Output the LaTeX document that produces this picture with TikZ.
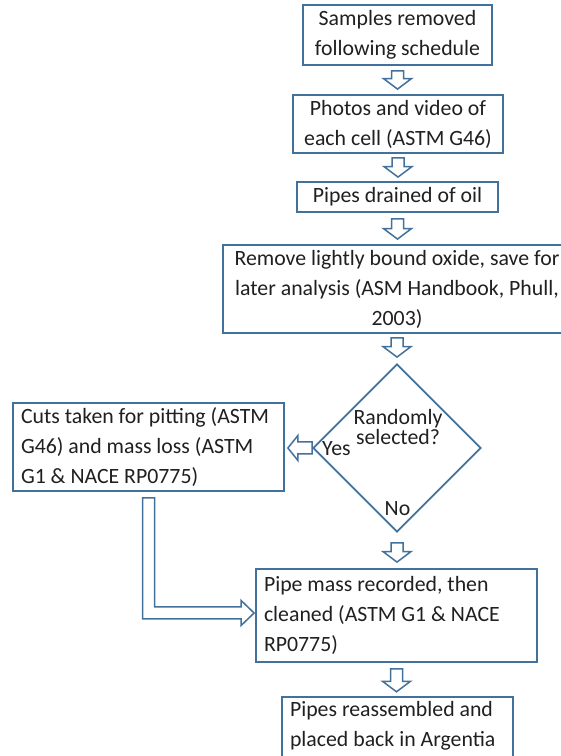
\documentclass[tikz,border=0pt]{standalone}
\usepackage{fontspec}
\setmainfont{Carlito}
\usetikzlibrary{shapes.geometric,calc}
\definecolor{edge}{HTML}{41719C}
\definecolor{ink}{HTML}{202020}

\tikzset{
  x=1pt, y=1pt,
  txt/.style={text=ink, inner sep=0pt, font=\fontsize{21.8}{30}\selectfont},
  box/.style={txt, draw=edge, line width=1.8pt, fill=white},
  cbox/.style={box, align=flush center},
  lbox/.style={box, align=flush left, inner xsep=8pt, text width=#1},
  blk/.style={draw=edge, line width=1.5pt, fill=white, line join=miter},
  decision/.style={diamond, aspect=1, draw=edge, line width=1.8pt, inner sep=0pt,
    minimum width=168pt, minimum height=168pt},
}

% hollow block arrow pointing down, from start point #1 to tip #2
\newcommand\downblk[2]{%
  \draw[blk] let \p1=(#1), \p2=(#2) in
    (\x1-6pt,\y1) -- (\x1+6pt,\y1) -- (\x1+6pt,\y2+10.5pt) -- (\x1+14pt,\y2+10.5pt)
    -- (\x1,\y2) -- (\x1-14pt,\y2+10.5pt) -- (\x1-6pt,\y2+10.5pt) -- cycle;}

\begin{document}
\begin{tikzpicture}
\useasboundingbox (0,0) rectangle (561,756);

% process boxes
\node[cbox, minimum width=189pt, minimum height=60pt] (b1) at (397.5,721)
  {Samples removed\\following schedule};
\node[cbox, minimum width=210pt, minimum height=58pt] (b2) at (398,632)
  {Photos and video of\\each cell (ASTM G46)};
\node[cbox, minimum width=201pt, minimum height=30pt] (b3) at (397.5,559)
  {Pipes drained of oil};
\node[cbox, minimum width=348pt, minimum height=88pt] (b4) at (397,467)
  {Remove lightly bound oxide, save for\\later analysis (ASM Handbook, Phull,\\2003)};

% decision
\node[decision] (dia) at (397,308) {};
\node[txt, align=flush center, font=\fontsize{21.8}{20}\selectfont] (q) at (398,329)
  {Randomly\\selected?};
\node[txt, anchor=west] (yes) at (322,307) {Yes};
\node[txt] (no) at (397.5,247.5) {No};

\node[lbox=255pt, minimum height=88pt] (b5) at (148.5,309)
  {Cuts taken for pitting (ASTM\\G46) and mass loss (ASTM\\G1 \& NACE RP0775)};
\node[lbox=265pt, minimum height=93pt] (b6) at (396.5,140.5)
  {Pipe mass recorded, then\\cleaned (ASTM G1 \& NACE\\RP0775)};

% last box runs past the lower edge
\node[txt, align=flush left, inner xsep=8pt, text width=215pt, minimum height=57pt] (b7)
  at (397.5,30.5) {Pipes reassembled and\\placed back in Argentia};
\draw[draw=edge, line width=1.8pt] (b7.north west) rectangle ($(b7.south east)+(0,-25)$);

% connectors
\downblk{$(b1.south)+(0,-5)$}{$(b2.north)+(0,5)$}
\downblk{$(b2.south)+(0,-4)$}{$(b3.north)+(0,4)$}
\downblk{$(b3.south)+(0,-6)$}{$(b4.north)+(0,5)$}
\downblk{$(b4.south)+(0,-4)$}{$(dia.north)+(0,6)$}
\downblk{$(dia.south)+(0,-10)$}{$(b6.north)+(0,6)$}
\downblk{$(b6.south)+(0,-6)$}{$(b7.north)+(0,5)$}

% Yes branch
\draw[blk] let \p1=(dia.west), \p2=($(b5.east)+(3,0)$) in
  (\x1,\y1+6pt) -- (\x2+10pt,\y1+6pt) -- (\x2+10pt,\y1+12.5pt) -- (\x2,\y1)
  -- (\x2+10pt,\y1-12.5pt) -- (\x2+10pt,\y1-6pt) -- (\x1,\y1-6pt) -- cycle;

% return path into the cleaning step
\draw[blk] let \p1=($(b5.south)+(0,-6)$), \p2=($(b6.west)+(-1,2.5)$) in
  (\x1-6pt,\y1) -- (\x1+6pt,\y1) -- (\x1+6pt,\y2+6pt) -- (\x2-13pt,\y2+6pt)
  -- (\x2-13pt,\y2+12.5pt) -- (\x2,\y2) -- (\x2-13pt,\y2-12.5pt)
  -- (\x2-13pt,\y2-6pt) -- (\x1-6pt,\y2-6pt) -- cycle;
\end{tikzpicture}
\end{document}
